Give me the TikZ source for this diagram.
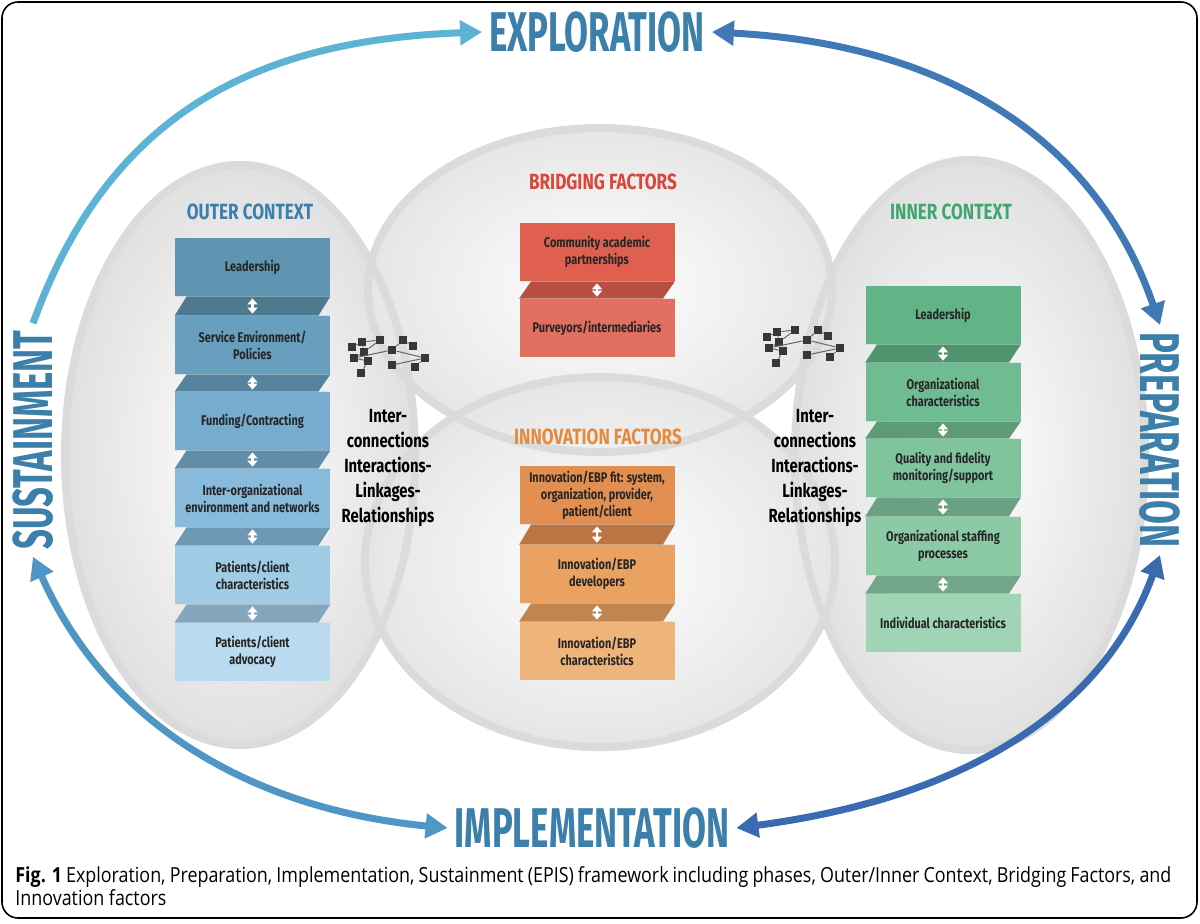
\documentclass[tikz,border=0pt]{standalone}
\usepackage{fontspec}
\setmainfont{Fira Sans}[FakeStretch=0.78]
\newfontfamily\capfont{Open Sans}[FakeStretch=0.86]
\newfontfamily\phasefont{Fira Sans}[FakeStretch=0.62]
\usetikzlibrary{arrows.meta,shapes.geometric}
\definecolor{titleblue}{HTML}{3C7FAB}
\definecolor{bred}{HTML}{D9463A}
\definecolor{iorange}{HTML}{E38A3E}
\definecolor{igreen}{HTML}{3FA671}
\definecolor{arrL}{HTML}{5DB3D3}
\definecolor{arrD}{HTML}{3A6BB0}
\definecolor{co1}{HTML}{5F95B0}\definecolor{co2}{HTML}{689EBE}\definecolor{co3}{HTML}{76ACCE}
\definecolor{co4}{HTML}{88BADB}\definecolor{co5}{HTML}{A0CBE5}\definecolor{co6}{HTML}{BADBEF}
\definecolor{cb1}{HTML}{E06050}\definecolor{cb2}{HTML}{E27060}
\definecolor{ci1}{HTML}{E48F52}\definecolor{ci2}{HTML}{EAA262}\definecolor{ci3}{HTML}{EEB47A}
\definecolor{cn1}{HTML}{60B486}\definecolor{cn2}{HTML}{70BC92}\definecolor{cn3}{HTML}{80C49E}
\definecolor{cn4}{HTML}{8CCAA6}\definecolor{cn5}{HTML}{A0D4B5}
\begin{document}
\begin{tikzpicture}[x=0.5pt,y=-0.5pt,
  box/.style={minimum width=77.5pt,minimum height=29pt,inner sep=1pt,align=center,font=\fontsize{7}{8.5}\selectfont\bfseries,text=black!85},
  dbl/.style={white,line width=1.3pt,{Triangle[length=3pt,width=5pt]}-{Triangle[length=3pt,width=5pt]},shorten <=1pt,shorten >=1pt},
  phase/.style={font=\phasefont\fontsize{28}{28}\selectfont\bfseries,text=titleblue},
  sect/.style={font=\fontsize{11}{11}\selectfont\bfseries},
  link/.style={font=\fontsize{9.5}{12.5}\selectfont\bfseries,align=center},
  big/.style={line width=3.5pt,{Triangle[length=11pt,width=12pt]}-{Triangle[length=11pt,width=12pt]}},
  ring/.style={draw=black!14,line width=4pt},
  net/.style={draw=black!60,line width=0.5pt},
  sq/.style={fill=black!70!cyan!40!black,minimum size=4pt,inner sep=0pt}]
\useasboundingbox (0,0) rectangle (1200,923);
\fill[white] (0,0) rectangle (1200,923);
\draw[black,line width=0.8pt,rounded corners=8pt] (2,2) rectangle (1197,918);
% ellipses
\shade[inner color=white,outer color=black!12] (240,455) ellipse [x radius=175,y radius=290];
\shade[inner color=white,outer color=black!12] (970,455) ellipse [x radius=175,y radius=295];
\shade[inner color=white,outer color=black!10] (600,290) ellipse [x radius=232,y radius=162];
\shade[inner color=white,outer color=black!10] (600,562) ellipse [x radius=235,y radius=185];
\draw[ring] (240,455) ellipse [x radius=175,y radius=290];
\draw[ring] (970,455) ellipse [x radius=175,y radius=295];
\draw[ring] (600,290) ellipse [x radius=232,y radius=162];
\draw[ring] (600,562) ellipse [x radius=235,y radius=185];
% phases
\node[phase] (expl) at (597,32) {EXPLORATION};
\node[phase] (impl) at (592,828) {IMPLEMENTATION};
\node[phase,rotate=-90] (prep) at (1160,440) {PREPARATION};
\node[phase,rotate=90] (sust) at (33,440) {SUSTAINMENT};
% big arrows
\draw[line width=3.5pt,arrL,-{Triangle[length=11pt,width=12pt]}] (sust.east) .. controls (110,110) and (260,40) .. (expl.west);
\draw[big,arrD!80!arrL] (expl.east) .. controls (960,45) and (1100,150) .. (prep.west);
\draw[big,arrD] (prep.east) .. controls (1100,720) and (950,800) .. (impl.east);
\draw[big,arrD!40!arrL] (sust.west) .. controls (110,730) and (260,810) .. (impl.west);
% section titles
\node[sect,text=titleblue] (toc) at (250,212) {OUTER CONTEXT};
\node[sect,text=bred] (tbf) at (603,182) {BRIDGING FACTORS};
\node[sect,text=iorange] (tif) at (598,437) {INNOVATION FACTORS};
\node[sect,text=igreen] (tic) at (951,212) {INNER CONTEXT};
% outer boxes
\node[box,fill=co1] (o1) at (252.5,267) {Leadership};
\node[box,fill=co2] (o2) at (252.5,345) {Service Environment/\\Policies};
\node[box,fill=co3] (o3) at (252.5,421) {Funding/Contracting};
\node[box,fill=co4] (o4) at (252.5,498) {Inter-organizational\\environment and networks};
\node[box,fill=co5] (o5) at (252.5,575) {Patients/client\\characteristics};
\node[box,fill=co6] (o6) at (252.5,652) {Patients/client\\advocacy};
% bridging
\node[box,fill=cb1] (b1) at (597,252) {Community academic\\partnerships};
\node[box,fill=cb2] (b2) at (597,328) {Purveyors/intermediaries};
% innovation
\node[box,fill=ci1] (i1) at (597,495) {Innovation/EBP fit: system,\\organization, provider,\\patient/client};
\node[box,fill=ci2] (i2) at (597,574) {Innovation/EBP\\developers};
\node[box,fill=ci3] (i3) at (597,651) {Innovation/EBP\\characteristics};
% inner
\node[box,fill=cn1] (n1) at (943,315) {Leadership};
\node[box,fill=cn2] (n2) at (943,392) {Organizational\\characteristics};
\node[box,fill=cn3] (n3) at (943,468) {Quality and fidelity\\monitoring/support};
\node[box,fill=cn4] (n4) at (943,546) {Organizational staffing\\processes};
\node[box,fill=cn5] (n5) at (943,623) {Individual characteristics};
% folds and arrows
\foreach \a/\b/\c in {o1/o2/co1,o2/o3/co2,o3/o4/co3,o4/o5/co4,o5/o6/co5,
  b1/b2/cb1,i1/i2/ci1,i2/i3/ci2,n1/n2/cn1,n2/n3/cn2,n3/n4/cn3,n4/n5/cn4}{
  \fill[\c!82!black] (\a.south west) -- (\a.south east) -- ([xshift=-6pt]\b.north east) -- (\b.north east) -- (\b.north west) -- ([xshift=6pt]\a.south west) -- cycle;
  \draw[dbl] (\a.south) -- (\b.north);
}
% interconnections
\node[link] (lk1) at (388,468) {Inter-\\connections\\Interactions-\\Linkages-\\Relationships};
\node[link] (lk2) at (815,468) {Inter-\\connections\\Interactions-\\Linkages-\\Relationships};
% network icons
\foreach \dx/\dy/\p in {0/0/l,415/-10/r}{
  \begin{scope}[shift={(\dx,\dy)}]
  \node[sq] (\p1) at (352,347) {};
  \node[sq] (\p2) at (362,342) {};
  \node[sq] (\p3) at (380,340) {};
  \node[sq] (\p4) at (364,352) {};
  \node[sq] (\p5) at (354,358) {};
  \node[sq] (\p6) at (368,361) {};
  \node[sq] (\p7) at (361,373) {};
  \node[sq] (\p8) at (403,340) {};
  \node[sq] (\p9) at (392,350) {};
  \node[sq] (\p10) at (413,346) {};
  \node[sq] (\p11) at (425,358) {};
  \node[sq] (\p12) at (392,365) {};
  \node[sq] (\p13) at (415,367) {};
  \draw[net] (\p1)--(\p2)--(\p3)--(\p4)--(\p5)--(\p6)--(\p7);
  \draw[net] (\p5)--(\p9)--(\p8)--(\p10);
  \draw[net] (\p4)--(\p6);
  \draw[net] (\p9)--(\p11)--(\p13);
  \draw[net] (\p12)--(\p11);
  \draw[net] (\p2)--(\p4);
  \end{scope}
}
% caption
\node[anchor=north west,text width=578pt,align=justify,inner sep=0pt,font=\capfont\fontsize{10.4}{11.5}\selectfont] (cap) at (15,866)
 {\textbf{Fig. 1} Exploration, Preparation, Implementation, Sustainment (EPIS) framework including phases, Outer/Inner Context, Bridging Factors, and Innovation factors};
\end{tikzpicture}
\end{document}
